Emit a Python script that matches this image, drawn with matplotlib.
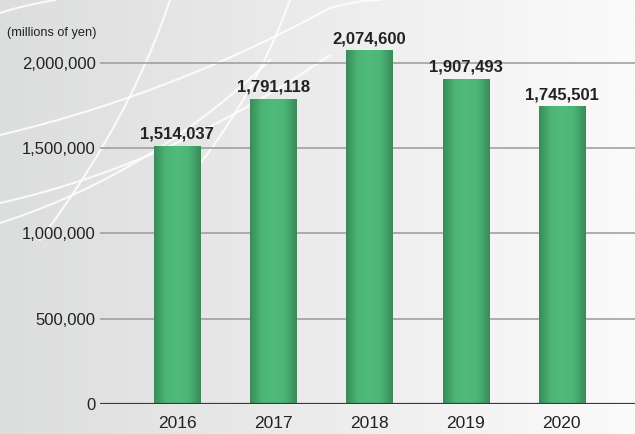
import numpy as np
import matplotlib.pyplot as plt
from matplotlib.colors import LinearSegmentedColormap

years = ["2016", "2017", "2018", "2019", "2020"]
sales = [1514037, 1791118, 2074600, 1907493, 1745501]
yticks = [0, 500000, 1000000, 1500000, 2000000]

plt.rcParams['font.family'] = ['Liberation Sans', 'DejaVu Sans']

W, H = 635, 434
fig = plt.figure(figsize=(W / 100, H / 100), dpi=100)

# background gradient + decorative white curves (pixel coords, y from top)
bg = fig.add_axes([0, 0, 1, 1], zorder=0)
grad = np.linspace(0, 1, 256).reshape(1, -1)
bg_cmap = LinearSegmentedColormap.from_list("bg", ["#dcdddd", "#ececec", "#fbfbfb"])
bg.imshow(grad, aspect="auto", cmap=bg_cmap, extent=[0, W, H, 0])


def bez(p0, p1, p2):
    t = np.linspace(0, 1, 100)[:, None]
    p = (1 - t) ** 2 * np.array(p0) + 2 * (1 - t) * t * np.array(p1) + t ** 2 * np.array(p2)
    return p[:, 0], p[:, 1]


curves = [
    bez((0, 13), (25, 5), (55, 0)),
    bez((0, 135), (170, 95), (330, 8)),
    bez((0, 203), (170, 165), (330, 55)),
    bez((0, 223), (150, 175), (270, 60)),
    bez((170, 0), (130, 120), (40, 240)),
    bez((290, 0), (250, 110), (170, 200)),
    bez((330, 8), (360, 0), (380, 0)),
]
for cx, cy in curves:
    bg.plot(cx, cy, color="white", lw=1.5, alpha=0.85)
bg.set_xlim(0, W)
bg.set_ylim(H, 0)
bg.axis("off")

ax = fig.add_axes([100 / W, 30 / H, 535 / W, 404 / H], zorder=1)
ax.patch.set_alpha(0)
x = np.arange(len(years))
bars = ax.bar(x, sales, width=0.48, color="#4cb677", zorder=3)

bar_cmap = LinearSegmentedColormap.from_list(
    "bar", ["#3a8c5b", "#4bb576", "#50bb7b", "#4bb576", "#3a8a5a"])
for b in bars:
    img = ax.imshow(np.linspace(0, 1, 64).reshape(1, -1), cmap=bar_cmap, aspect="auto",
                    extent=[b.get_x(), b.get_x() + b.get_width(), 0, b.get_height()],
                    zorder=3.5)
    img.set_clip_path(b)

for xi, v in zip(x, sales):
    ax.annotate(f"{v:,}", (xi, v), xytext=(0, 3), textcoords="offset points",
                ha="center", va="bottom", fontsize=12, fontweight="bold", color="#222222")

ax.set_xlim(-0.80, 4.76)
ax.set_ylim(0, 2369500)
ax.set_yticks(yticks)
ax.set_yticklabels([f"{v:,}" for v in yticks], fontsize=12, color="#222222")
ax.set_xticks(x)
ax.set_xticklabels(years, fontsize=12.5, color="#222222")
ax.tick_params(axis="y", length=0, pad=3)
ax.tick_params(axis="x", length=0, pad=9)
for v in yticks[1:]:
    ax.axhline(v, color="#9a9a9a", lw=1.1, zorder=2)
ax.axhline(0, color="#3a3a3a", lw=1.6, zorder=4)
for s in ax.spines.values():
    s.set_visible(False)

fig.text(7 / W, 1 - 33 / H, "(millions of yen)", fontsize=9.2, color="#222222",
         va="center", ha="left")

fig.savefig("out.png", dpi=100)
